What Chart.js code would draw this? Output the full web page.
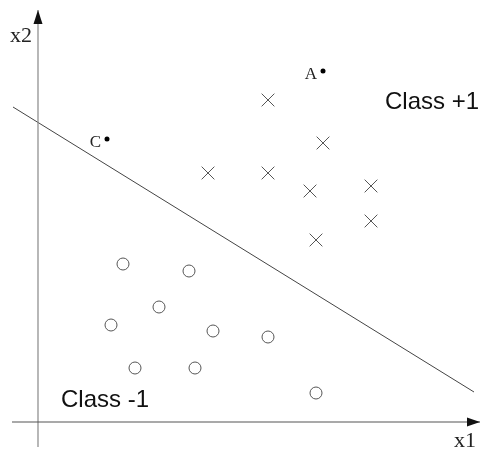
<!DOCTYPE html>
<html>
<head>
<meta charset="utf-8">
<script src="https://cdn.jsdelivr.net/npm/chart.js@4/dist/chart.umd.min.js"></script>
<style>
  html, body { margin: 0; padding: 0; background: #fff; }
  #wrap { width: 481px; height: 450px; }
</style>
</head>
<body>
<div id="wrap"><canvas id="svmChart" width="481" height="450"></canvas></div>
<script>
// class +1 samples (crosses)
var plusX = [23.0, 28.5, 17.0, 23.0, 27.2, 33.3, 33.3, 27.8];
var plusY = [32.2, 27.9, 24.9, 24.9, 23.1, 23.6, 20.1, 18.2];

// class -1 samples (circles)
var minusX = [8.5, 15.1, 12.1, 7.3, 17.5, 23.0, 9.7, 15.7, 27.8];
var minusY = [15.8, 15.1, 11.5, 9.7, 9.1, 8.5, 5.4, 5.4, 2.9];

// query points A and C
var queryNames = ['A', 'C'];
var queryX = [28.5, 6.9];
var queryY = [35.1, 28.3];

// separating line end points
var boundaryX = [-2.5, 43.6];
var boundaryY = [31.5, 3.0];

// axis extents
var xAxisRange = [-2.6, 44.2];
var yAxisRange = [-2.5, 41.2];

// text labels
var labelTexts = ['Class +1', 'Class -1', 'x1', 'x2'];
var labelX = [34.7, 2.3, 41.6, -2.8];
var labelY = [31.3, 1.5, -2.5, 38.0];

function toPoints(xs, ys) {
	var pts = [];
	for (var i = 0; i < xs.length; i++) {
		pts.push({x: xs[i], y: ys[i]});
	}
	return pts;
}

var annotate = {
	id: 'annotate',
	afterDatasetsDraw: function(chart) {
		var ctx = chart.ctx;
		var sx = chart.scales.x;
		var sy = chart.scales.y;
		ctx.save();

		// arrow heads on the axes
		var hx = sx.getPixelForValue(xAxisRange[1]);
		var hy = sy.getPixelForValue(0);
		ctx.fillStyle = '#111';
		ctx.beginPath();
		ctx.moveTo(hx, hy);
		ctx.lineTo(hx - 13, hy - 4.5);
		ctx.lineTo(hx - 13, hy + 4.5);
		ctx.closePath();
		ctx.fill();

		var vx = sx.getPixelForValue(0);
		var vy = sy.getPixelForValue(yAxisRange[1]);
		ctx.beginPath();
		ctx.moveTo(vx, vy);
		ctx.lineTo(vx - 4.5, vy + 14);
		ctx.lineTo(vx + 4.5, vy + 14);
		ctx.closePath();
		ctx.fill();

		// class labels and axis names
		ctx.textBaseline = 'alphabetic';
		ctx.textAlign = 'left';
		for (var i = 0; i < labelTexts.length; i++) {
			if (labelTexts[i].indexOf('Class') == 0) {
				ctx.font = '24px "Liberation Sans", Arial, sans-serif';
				ctx.fillStyle = '#111';
			} else {
				ctx.font = '22px "Liberation Serif", "Times New Roman", serif';
				ctx.fillStyle = '#222';
			}
			ctx.fillText(labelTexts[i], sx.getPixelForValue(labelX[i]), sy.getPixelForValue(labelY[i]));
		}

		// names next to the query points
		ctx.font = '17px "Liberation Serif", "Times New Roman", serif';
		ctx.fillStyle = '#222';
		ctx.textAlign = 'right';
		for (var j = 0; j < queryNames.length; j++) {
			ctx.fillText(queryNames[j], sx.getPixelForValue(queryX[j]) - 6, sy.getPixelForValue(queryY[j]) + 8);
		}
		ctx.restore();
	}
};

var ctx = document.getElementById('svmChart');
var svmChart = new Chart(ctx, {
	type: 'scatter',
	data: {
		datasets: [
			{
				data: toPoints(xAxisRange, [0, 0]),
				showLine: true,
				borderColor: '#555',
				borderWidth: 1.2,
				pointRadius: 0
			},
			{
				data: toPoints([0, 0], yAxisRange),
				showLine: true,
				borderColor: '#888',
				borderWidth: 1.2,
				pointRadius: 0
			},
			{
				data: toPoints(boundaryX, boundaryY),
				showLine: true,
				borderColor: '#444',
				borderWidth: 1,
				pointRadius: 0
			},
			{
				data: toPoints(plusX, plusY),
				pointStyle: 'crossRot',
				pointRadius: 9,
				borderColor: '#555',
				borderWidth: 1,
				backgroundColor: 'transparent'
			},
			{
				data: toPoints(minusX, minusY),
				pointStyle: 'circle',
				pointRadius: 6,
				borderColor: '#555',
				borderWidth: 1,
				backgroundColor: 'transparent'
			},
			{
				data: toPoints(queryX, queryY),
				pointStyle: 'circle',
				pointRadius: 2.5,
				borderColor: '#000',
				borderWidth: 0,
				backgroundColor: '#000'
			}
		]
	},
	options: {
		responsive: false,
		animation: false,
		layout: { padding: 0, autoPadding: false },
		plugins: {
			legend: { display: false },
			tooltip: { enabled: false }
		},
		scales: {
			x: { type: 'linear', display: false, min: -3.8, max: 44.3 },
			y: { type: 'linear', display: false, min: -2.8, max: 42.2 }
		}
	},
	plugins: [annotate]
});
</script>
</body>
</html>
